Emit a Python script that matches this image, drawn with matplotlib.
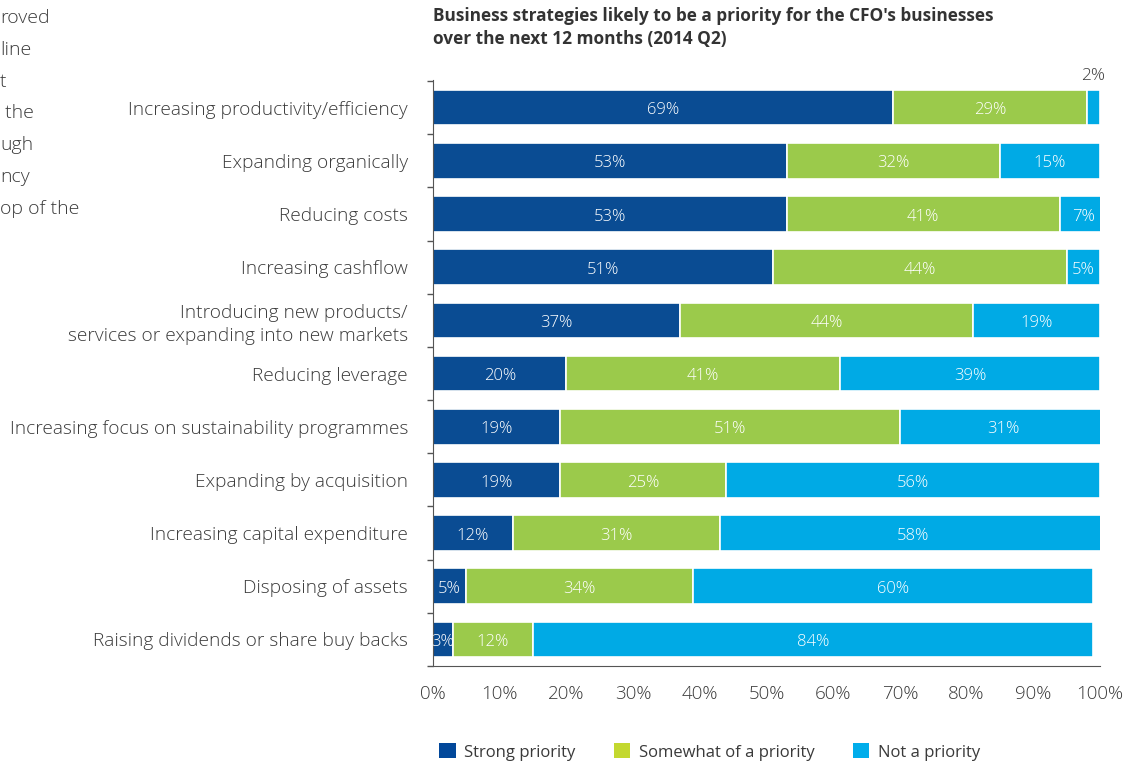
import matplotlib.pyplot as plt
from matplotlib.patches import Patch
import numpy as np

plt.rcParams['font.family'] = ['Open Sans', 'DejaVu Sans']

categories = [
    'Increasing productivity/efficiency',
    'Expanding organically',
    'Reducing costs',
    'Increasing cashflow',
    'Introducing new products/\nservices or expanding into new markets',
    'Reducing leverage',
    'Increasing focus on sustainability programmes',
    'Expanding by acquisition',
    'Increasing capital expenditure',
    'Disposing of assets',
    'Raising dividends or share buy backs',
]
strong = [69, 53, 53, 51, 37, 20, 19, 19, 12, 5, 3]
somewhat = [29, 32, 41, 44, 44, 41, 51, 25, 31, 34, 12]
not_priority = [2, 15, 7, 5, 19, 39, 31, 56, 58, 60, 84]
series_names = ['Strong priority', 'Somewhat of a priority', 'Not a priority']

# side paragraph fragments at the left page edge
side_text = ['roved', 'line', 't', ' the', 'ugh', 'ncy', 'op of the']

bar_colors = ['#0A4C93', '#9BCA4B', '#00AAE5']
legend_colors = ['#02489A', '#C3D82F', '#00ADEB']
text_gray = '#3a3a3a'

fig = plt.figure(figsize=(11.43, 7.65), dpi=100)
ax = fig.add_axes([433 / 1143, 1 - 666 / 765, 667 / 1143, 586 / 765])

y = np.arange(len(categories))
left = np.zeros(len(categories))
for vals, col in zip([strong, somewhat, not_priority], bar_colors):
    vals = np.array(vals)
    ax.barh(y, vals, left=left, height=0.67, color=col,
            edgecolor='white', linewidth=1.2, zorder=2)
    for yi, l, v in zip(y, left, vals):
        if v >= 3:
            ax.text(l + v / 2, yi + 0.05, f'{v}%', ha='center', va='center',
                    color='white', fontsize=12, fontweight='light', zorder=3)
        else:
            ax.text(l + v / 2, yi - 0.44, f'{v}%', ha='center', va='bottom',
                    color=text_gray, fontsize=12.5, fontweight='light')
    left = left + vals

ax.set_xlim(0, 100)
ax.set_ylim(len(categories) - 0.57, -0.52)
ax.set_xticks(np.arange(0, 101, 10))
ax.set_xticklabels([f'{t}%' for t in range(0, 101, 10)],
                   fontsize=13.5, color=text_gray, fontweight='light')
ax.tick_params(axis='x', length=0, pad=14)
ax.set_yticks(y)
ax.set_yticklabels(categories, fontsize=13.8, color=text_gray,
                   fontweight='light', linespacing=1.3)
ax.tick_params(axis='y', which='major', length=0, pad=18)
ax.set_yticks(np.arange(-0.5, len(categories), 1), minor=True)
ax.tick_params(axis='y', which='minor', length=4, color='#555555', width=1)
for s in ['top', 'right']:
    ax.spines[s].set_visible(False)
ax.spines['left'].set_color('#555555')
ax.spines['bottom'].set_color('#555555')

fig.text(433 / 1143, 1 - 7 / 765,
         "Business strategies likely to be a priority for the CFO's businesses\n"
         "over the next 12 months (2014 Q2)",
         ha='left', va='top', fontsize=12.4, fontweight='bold',
         color='#333333', linespacing=1.35)

for i, frag in enumerate(side_text):
    fig.text(0, 1 - (18 + 31.8 * i) / 765, frag,
             ha='left', va='center', fontsize=14, color=text_gray,
             fontweight='light')

handles = [Patch(facecolor=c, edgecolor='none') for c in legend_colors]
fig.legend(handles, series_names, loc='center left',
           bbox_to_anchor=(424 / 1143, 1 - 752 / 765), ncol=3, frameon=False,
           fontsize=12, handlelength=1.0, handleheight=1.0, handletextpad=0.5,
           columnspacing=2.3, labelcolor=text_gray)

fig.savefig('out.png', dpi=100)
